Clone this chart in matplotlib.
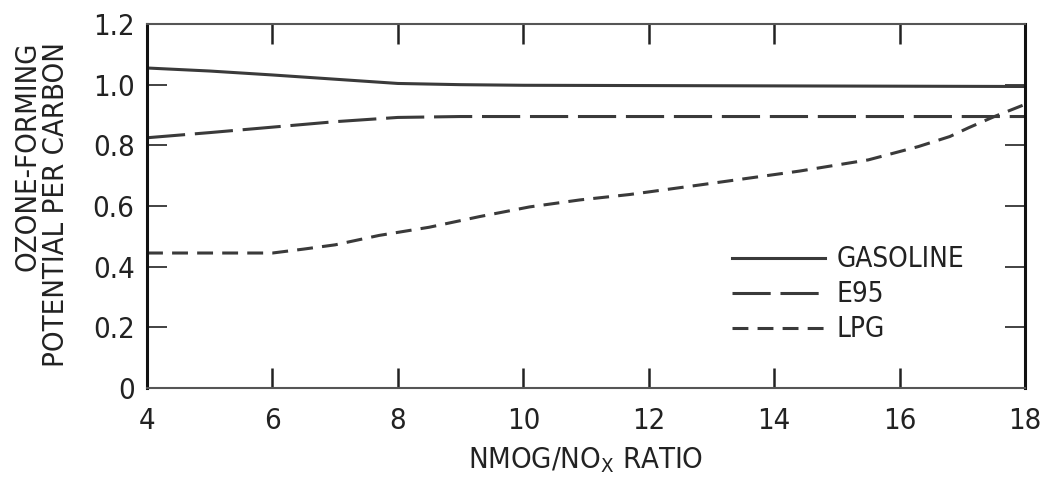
#!/usr/bin/env python3
"""Ozone-forming potential per carbon vs NMOG/NOx ratio."""

import matplotlib
matplotlib.use("Agg")
import matplotlib.pyplot as plt

FONT = ["DejaVu Sans", "Liberation Sans"]

# values
gasoline_x = [4, 5, 6, 7, 8, 9, 10, 12, 14, 16, 18]
gasoline_y = [1.055, 1.045, 1.032, 1.018, 1.004, 1.0, 0.998, 0.997, 0.996, 0.995, 0.994]

e95_x = [4, 5, 6, 7, 8, 9, 10, 12, 14, 16, 18]
e95_y = [0.825, 0.842, 0.86, 0.878, 0.892, 0.895, 0.895, 0.895, 0.895, 0.895, 0.895]

lpg_x = [4, 5, 6, 6.5, 7, 7.7, 8.5, 9.3, 10.1, 10.9, 11.7, 12.8, 14.4, 15.5,
         16.3, 16.8, 17.1, 17.5, 18]
lpg_y = [0.445, 0.445, 0.445, 0.458, 0.472, 0.503, 0.53, 0.565, 0.597, 0.62,
         0.638, 0.669, 0.715, 0.752, 0.796, 0.829, 0.858, 0.894, 0.935]

labels = ["GASOLINE", "E95", "LPG"]
x_ticks = [4, 6, 8, 10, 12, 14, 16, 18]
y_ticks = [0, 0.2, 0.4, 0.6, 0.8, 1.0, 1.2]
y_ticklabels = ["0", "0.2", "0.4", "0.6", "0.8", "1.0", "1.2"]

plt.rcParams["font.family"] = FONT
plt.rcParams["font.stretch"] = "condensed"
plt.rcParams["mathtext.fontset"] = "custom"
plt.rcParams["mathtext.rm"] = "DejaVu Sans:stretch=condensed"

INK = "#3a3a3a"

fig = plt.figure(figsize=(10.45, 4.87), dpi=100)
ax = fig.add_axes([0.1407, 0.2033, 0.8402, 0.7474])

ax.plot(gasoline_x, gasoline_y, color=INK, lw=2.2, label=labels[0])
ax.plot(e95_x, e95_y, color=INK, lw=2.2, dashes=(12.5, 3.2), label=labels[1])
ax.plot(lpg_x, lpg_y, color=INK, lw=2.2, dashes=(5.2, 3.0), label=labels[2])

ax.set_xlim(4, 18)
ax.set_ylim(0, 1.2)
ax.set_xticks(x_ticks)
ax.set_yticks(y_ticks)
ax.set_yticklabels(y_ticklabels)
ax.tick_params(axis="both", direction="in", length=14.5, labelsize=21,
               colors="#222222")
ax.tick_params(axis="x", width=1.8, top=True, pad=14)
ax.tick_params(axis="y", width=1.2, right=True, pad=9)

for side in ("left", "right"):
    ax.spines[side].set_linewidth(2.2)
    ax.spines[side].set_color("#111111")
for side in ("top", "bottom"):
    ax.spines[side].set_linewidth(1.5)
    ax.spines[side].set_color("#555555")

ax.set_xlabel(r"NMOG/NO$_{\mathrm{X}}$ RATIO", fontsize=21, labelpad=7,
              color="#222222")

fig.text(0.04, 0.58, "OZONE-FORMING\nPOTENTIAL PER CARBON", rotation=90,
         ha="center", va="center", multialignment="right", fontsize=21,
         linespacing=1.0, color="#222222")

ax.legend(loc="upper left", bbox_to_anchor=(0.65, 0.43), frameon=False,
          fontsize=20, handlelength=3.35, handletextpad=0.43, labelspacing=0.25,
          borderpad=0, labelcolor="#222222")

fig.savefig("out.png", dpi=100)
